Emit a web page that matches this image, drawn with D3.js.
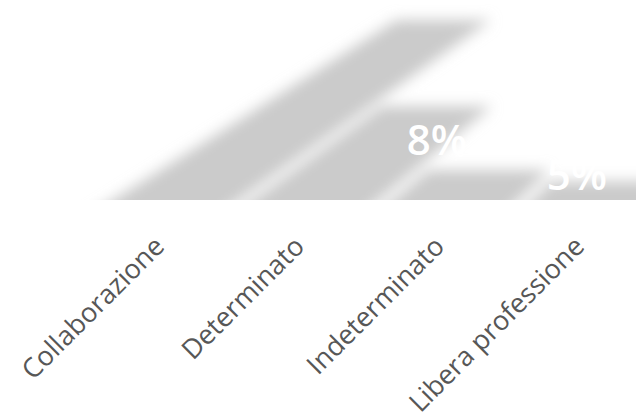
<!DOCTYPE html>
<html>
<head>
<meta charset="utf-8">
<script src="https://cdn.jsdelivr.net/npm/d3@7"></script>
<style>
  html, body { margin: 0; padding: 0; background: #ffffff; }
  svg { display: block; }
</style>
</head>
<body>
<script>
// Contract types and their share of respondents (%)
const categories = ["Collaborazione", "Determinato", "Indeterminato", "Libera professione"];
const values = [48, 25, 8, 5];
const valueLabels = values.map(v => v + "%");

const width = 636, height = 419;
const baseline = 200;                 // bottom of the plot area
const vanish = { x: 1235, y: -512 };  // point the long shadows run toward

const svg = d3.select("body").append("svg")
  .attr("width", width)
  .attr("height", height);

const x = d3.scaleBand()
  .domain(categories)
  .range([106, 666])
  .paddingInner(0.1)
  .paddingOuter(0.05);

const y = d3.scaleLinear()
  .domain([0, 50])
  .range([baseline, baseline - 187.5]);

// vertical placement of the value labels (kept inside the frame)
const yLabel = d3.scaleLinear()
  .domain([0, 18])
  .range([248, 38])
  .clamp(true);

const defs = svg.append("defs");
defs.append("filter")
  .attr("id", "soft")
  .attr("x", "-20%").attr("y", "-20%")
  .attr("width", "140%").attr("height", "140%")
  .append("feGaussianBlur")
  .attr("stdDeviation", 7);

defs.append("clipPath")
  .attr("id", "plot")
  .append("rect")
  .attr("x", 0).attr("y", 0)
  .attr("width", width).attr("height", baseline);

// x position of the edge that starts at xb on the baseline, at height yy
const edge = (xb, yy) => xb + (vanish.x - xb) * (baseline - yy) / (baseline - vanish.y);

const below = baseline + 25;
const bars = svg.append("g")
  .attr("clip-path", "url(#plot)")
  .append("g")
  .attr("filter", "url(#soft)");

bars.selectAll("path")
  .data(categories.map((c, i) => ({ c, v: values[i] })))
  .join("path")
  .attr("fill", "#cbcbcb")
  .attr("d", d => {
    const x0 = x(d.c), x1 = x(d.c) + x.bandwidth();
    const yt = y(d.v);
    return "M" + [
      [edge(x0, below), below],
      [edge(x1, below), below],
      [edge(x1, yt), yt],
      [edge(x0, yt), yt]
    ].map(p => p.join(",")).join("L") + "Z";
  });

// value labels
svg.append("g")
  .selectAll("text")
  .data(categories.map((c, i) => ({ c, v: values[i], t: valueLabels[i] })))
  .join("text")
  .attr("x", d => x(d.c) + x.bandwidth() / 2 - 19)
  .attr("y", d => yLabel(d.v))
  .attr("text-anchor", "middle")
  .attr("fill", "#ffffff")
  .attr("font-family", "'Open Sans', sans-serif")
  .attr("font-weight", 600)
  .attr("font-size", 42)
  .text(d => d.t);

// category axis, labels slanted
const axis = svg.append("g")
  .attr("transform", `translate(0,${baseline})`)
  .call(d3.axisBottom(x).tickSize(0).tickPadding(0));
axis.select(".domain").remove();
axis.selectAll(".tick text")
  .attr("fill", "#575757")
  .attr("font-family", "'Open Sans', sans-serif")
  .attr("font-size", 27)
  .attr("text-anchor", "end")
  .attr("dy", null)
  .attr("y", null)
  .attr("transform", "translate(-10,48) rotate(-45)");
</script>
</body>
</html>
